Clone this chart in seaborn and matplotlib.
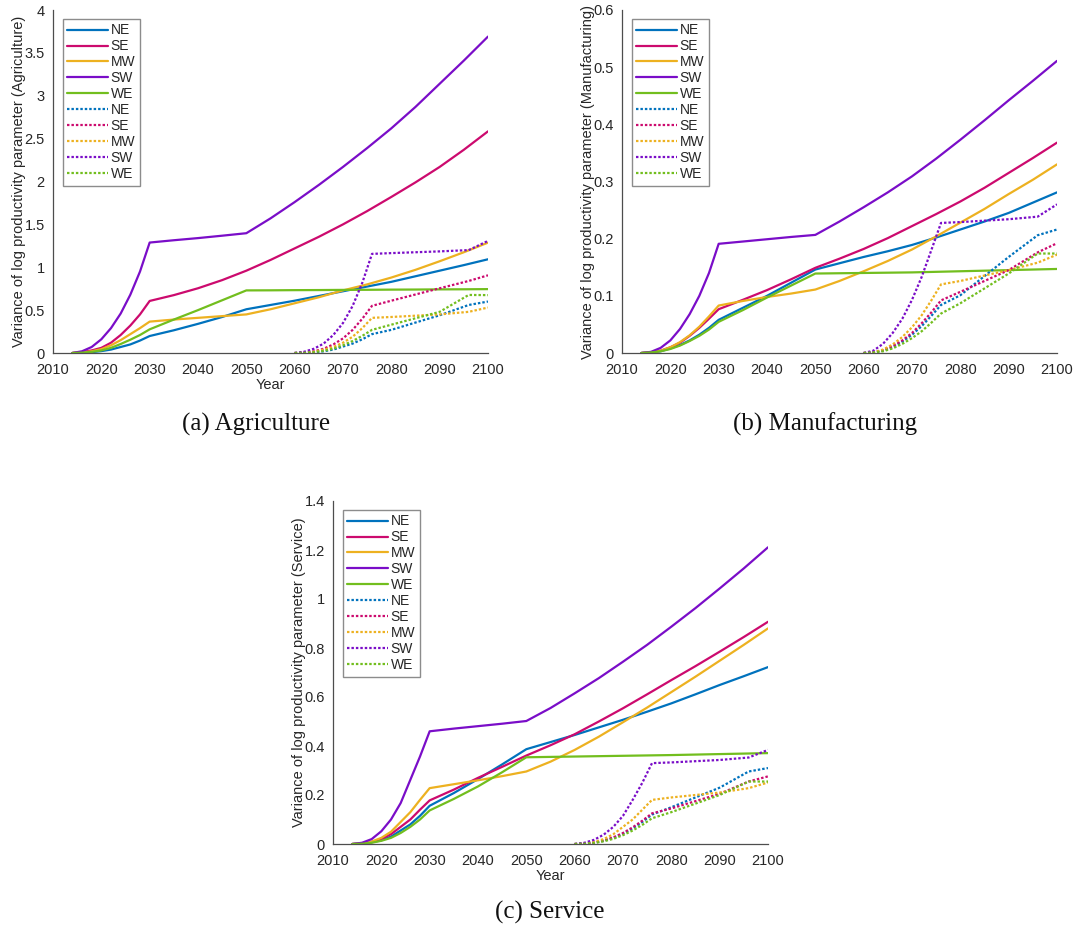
import numpy as np
import pandas as pd
import matplotlib
matplotlib.use("Agg")
import matplotlib.pyplot as plt
from matplotlib.ticker import FuncFormatter, MultipleLocator
import seaborn as sns

# ---- data -----------------------------------------------------------------
regions = ["NE", "SE", "MW", "SW", "WE"]
colors = ["#0072BD", "#CC0A6E", "#EDB120", "#7A0DC8", "#72BE1E"]

years_solid = [2014, 2016, 2018, 2020, 2022, 2024, 2026, 2028, 2030,
               2035, 2040, 2045, 2050, 2055, 2060, 2065, 2070, 2075,
               2080, 2085, 2090, 2095, 2100]
years_dot = [2060, 2062, 2064, 2066, 2068, 2070, 2072, 2074, 2076,
             2080, 2090, 2096, 2100]

# Agriculture
agr_solid = {
    "NE": [0, 0.003, 0.010, 0.022, 0.040, 0.070, 0.100, 0.145, 0.198,
           0.265, 0.340, 0.420, 0.510, 0.560, 0.610, 0.665, 0.720, 0.775,
           0.830, 0.895, 0.960, 1.025, 1.093],
    "SE": [0, 0.010, 0.030, 0.060, 0.120, 0.210, 0.320, 0.450, 0.607,
           0.675, 0.755, 0.850, 0.960, 1.085, 1.220, 1.355, 1.500, 1.655,
           1.820, 1.990, 2.170, 2.370, 2.585],
    "MW": [0, 0.005, 0.020, 0.045, 0.090, 0.150, 0.220, 0.290, 0.366,
           0.390, 0.410, 0.430, 0.450, 0.510, 0.580, 0.650, 0.730, 0.800,
           0.880, 0.970, 1.070, 1.175, 1.287],
    "SW": [0, 0.020, 0.070, 0.160, 0.290, 0.460, 0.680, 0.950, 1.288,
           1.315, 1.340, 1.368, 1.397, 1.570, 1.760, 1.960, 2.170, 2.390,
           2.620, 2.870, 3.140, 3.410, 3.690],
    "WE": [0, 0.004, 0.013, 0.030, 0.060, 0.105, 0.155, 0.210, 0.276,
           0.390, 0.500, 0.615, 0.730, 0.731, 0.733, 0.734, 0.736, 0.737,
           0.739, 0.740, 0.742, 0.743, 0.745],
}
agr_dot = {
    "NE": [0, 0.002, 0.008, 0.020, 0.040, 0.075, 0.110, 0.160, 0.220, 0.270, 0.440, 0.560, 0.600],
    "SE": [0, 0.004, 0.020, 0.050, 0.100, 0.170, 0.270, 0.400, 0.550, 0.610, 0.755, 0.840, 0.906],
    "MW": [0, 0.003, 0.015, 0.040, 0.070, 0.120, 0.190, 0.290, 0.410, 0.420, 0.450, 0.480, 0.530],
    "SW": [0, 0.015, 0.050, 0.110, 0.210, 0.350, 0.550, 0.820, 1.156, 1.165, 1.185, 1.200, 1.307],
    "WE": [0, 0.002, 0.010, 0.025, 0.050, 0.090, 0.140, 0.200, 0.270, 0.330, 0.480, 0.677, 0.675],
}

# Manufacturing
man_solid = {
    "NE": [0, 0.001, 0.003, 0.008, 0.014, 0.022, 0.032, 0.044, 0.058,
           0.079, 0.100, 0.123, 0.146, 0.157, 0.168, 0.178, 0.189, 0.202,
           0.216, 0.230, 0.245, 0.263, 0.281],
    "SE": [0, 0.001, 0.004, 0.010, 0.018, 0.030, 0.044, 0.060, 0.0766,
           0.093, 0.110, 0.129, 0.149, 0.165, 0.182, 0.201, 0.222, 0.243,
           0.265, 0.289, 0.315, 0.341, 0.368],
    "MW": [0, 0.001, 0.004, 0.010, 0.019, 0.031, 0.046, 0.064, 0.083,
           0.091, 0.098, 0.104, 0.111, 0.126, 0.143, 0.161, 0.181, 0.204,
           0.228, 0.252, 0.278, 0.303, 0.330],
    "SW": [0, 0.002, 0.009, 0.022, 0.042, 0.068, 0.100, 0.140, 0.191,
           0.195, 0.199, 0.203, 0.2066, 0.230, 0.255, 0.281, 0.309, 0.340,
           0.373, 0.407, 0.442, 0.476, 0.511],
    "WE": [0, 0.001, 0.003, 0.007, 0.013, 0.021, 0.030, 0.041, 0.0545,
           0.075, 0.097, 0.118, 0.139, 0.1395, 0.140, 0.1405, 0.141, 0.142,
           0.143, 0.144, 0.145, 0.146, 0.147],
}
man_dot = {
    "NE": [0, 0.001, 0.004, 0.010, 0.020, 0.032, 0.047, 0.065, 0.084, 0.101, 0.168, 0.206, 0.216],
    "SE": [0, 0.001, 0.005, 0.012, 0.022, 0.035, 0.052, 0.071, 0.092, 0.107, 0.145, 0.176, 0.192],
    "MW": [0, 0.001, 0.006, 0.015, 0.028, 0.045, 0.066, 0.092, 0.120, 0.126, 0.145, 0.158, 0.172],
    "SW": [0, 0.004, 0.016, 0.035, 0.060, 0.093, 0.133, 0.180, 0.2275, 0.229, 0.234, 0.2385, 0.260],
    "WE": [0, 0.001, 0.003, 0.008, 0.016, 0.026, 0.038, 0.053, 0.069, 0.087, 0.139, 0.174, 0.174],
}

# Service
ser_solid = {
    "NE": [0, 0.002, 0.007, 0.015, 0.030, 0.055, 0.080, 0.115, 0.156,
           0.208, 0.265, 0.325, 0.387, 0.416, 0.445, 0.476, 0.507, 0.540,
           0.574, 0.611, 0.649, 0.685, 0.722],
    "SE": [0, 0.002, 0.008, 0.020, 0.040, 0.070, 0.100, 0.140, 0.178,
           0.222, 0.270, 0.315, 0.361, 0.403, 0.448, 0.500, 0.554, 0.611,
           0.669, 0.726, 0.785, 0.845, 0.907],
    "MW": [0, 0.003, 0.010, 0.025, 0.050, 0.090, 0.130, 0.180, 0.228,
           0.244, 0.260, 0.277, 0.296, 0.336, 0.384, 0.438, 0.497, 0.557,
           0.620, 0.683, 0.748, 0.813, 0.880],
    "SW": [0, 0.005, 0.020, 0.052, 0.100, 0.167, 0.262, 0.357, 0.460,
           0.471, 0.481, 0.491, 0.502, 0.555, 0.615, 0.677, 0.744, 0.813,
           0.887, 0.963, 1.043, 1.125, 1.211],
    "WE": [0, 0.001, 0.005, 0.013, 0.025, 0.045, 0.070, 0.100, 0.137,
           0.184, 0.235, 0.293, 0.354, 0.3555, 0.357, 0.3585, 0.360, 0.3615,
           0.363, 0.365, 0.367, 0.369, 0.371],
}
ser_dot = {
    "NE": [0, 0.001, 0.005, 0.013, 0.025, 0.042, 0.064, 0.090, 0.120, 0.150, 0.230, 0.296, 0.310],
    "SE": [0, 0.001, 0.005, 0.014, 0.027, 0.045, 0.068, 0.095, 0.125, 0.145, 0.205, 0.255, 0.276],
    "MW": [0, 0.002, 0.008, 0.020, 0.040, 0.070, 0.100, 0.140, 0.180, 0.190, 0.210, 0.228, 0.251],
    "SW": [0, 0.005, 0.017, 0.038, 0.070, 0.115, 0.180, 0.250, 0.330, 0.333, 0.343, 0.353, 0.384],
    "WE": [0, 0.001, 0.004, 0.011, 0.021, 0.036, 0.055, 0.078, 0.105, 0.130, 0.200, 0.255, 0.255],
}

sectors = ["Agriculture", "Manufacturing", "Service"]
captions = ["(a) Agriculture", "(b) Manufacturing", "(c) Service"]
y_max = [4, 0.6, 1.4]
y_step = [0.5, 0.1, 0.2]

# ---- style ----------------------------------------------------------------
sns.set_style("white")
plt.rcParams["font.family"] = ["Liberation Sans", "DejaVu Sans"]
axis_col = "#4d4d4d"
text_col = "#262626"

fig = plt.figure(figsize=(10.75, 9.3), dpi=100)
W, H = 1075, 930
# axes boxes in pixels: left, top, right, bottom
boxes = [(53, 10, 488, 353), (622, 10, 1057, 353), (333, 501, 768, 844)]
axes = []
for (l, t, r, b) in boxes:
    axes.append(fig.add_axes([l / W, 1 - b / H, (r - l) / W, (b - t) / H]))

panels = [(agr_solid, agr_dot), (man_solid, man_dot), (ser_solid, ser_dot)]
fmt = FuncFormatter(lambda v, p: "%g" % round(v, 6))

for i, ax in enumerate(axes):
    solid, dot = panels[i]
    for reg, col in zip(regions, colors):
        df = pd.DataFrame({"Year": years_solid, "v": solid[reg]})
        sns.lineplot(data=df, x="Year", y="v", ax=ax, color=col, lw=1.6,
                     label=reg, estimator=None)
    for reg, col in zip(regions, colors):
        df = pd.DataFrame({"Year": years_dot, "v": dot[reg]})
        sns.lineplot(data=df, x="Year", y="v", ax=ax, color=col, lw=1.6,
                     linestyle=(0, (1.1, 0.9)), label=reg, estimator=None)

    ax.set_xlim(2010, 2100)
    ax.set_ylim(0, y_max[i])
    ax.xaxis.set_major_locator(MultipleLocator(10))
    ax.yaxis.set_major_locator(MultipleLocator(y_step[i]))
    ax.yaxis.set_major_formatter(fmt)
    ax.tick_params(direction="in", length=4, width=0.8, colors=axis_col,
                   labelcolor=text_col, labelsize=10.5)
    ax.tick_params(axis="x", pad=7)
    ax.tick_params(axis="y", pad=6)
    for s in ["top", "right"]:
        ax.spines[s].set_visible(False)
    for s in ["left", "bottom"]:
        ax.spines[s].set_color(axis_col)
        ax.spines[s].set_linewidth(0.9)
    ax.set_ylabel("Variance of log productivity parameter (%s)" % sectors[i],
                  fontsize=10.5, color=text_col, labelpad=-1)
    if i == 1:
        ax.set_xlabel("")
    else:
        ax.set_xlabel("Year", fontsize=10.5, color=text_col, labelpad=1)

    leg = ax.legend(loc="upper left", bbox_to_anchor=(0.022, 0.975),
                    fontsize=10, handlelength=2.9, handletextpad=0.2,
                    labelspacing=0.14, borderpad=0.35, borderaxespad=0,
                    fancybox=False, framealpha=1, edgecolor="#8c8c8c")
    leg.get_frame().set_linewidth(1.0)
    for t in leg.get_texts():
        t.set_color(text_col)

caption_pos = [(256, 424), (825, 424), (550, 912)]
for cap, (cx, cy) in zip(captions, caption_pos):
    fig.text(cx / W, 1 - cy / H, cap, ha="center", va="center",
             fontsize=18, family=["Liberation Serif", "DejaVu Serif"],
             color="#111111")

fig.savefig("out.png", dpi=100)
